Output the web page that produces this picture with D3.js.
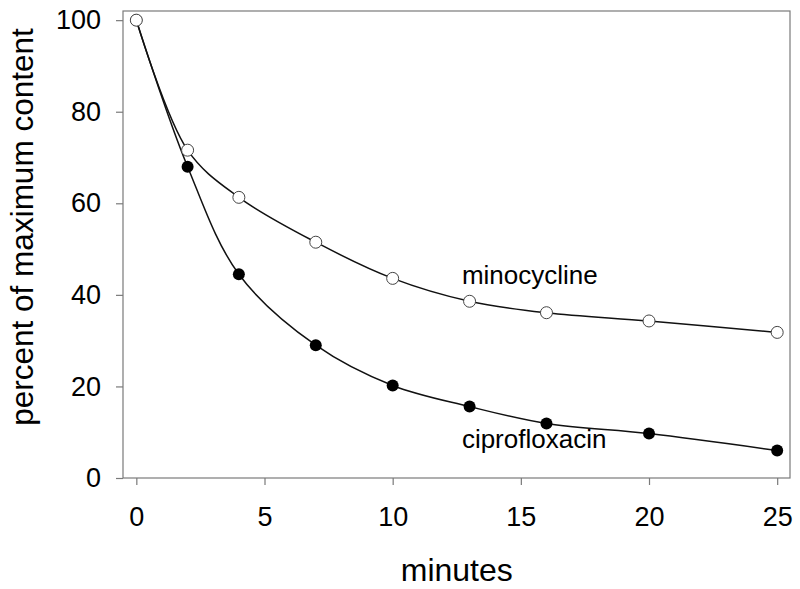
<!DOCTYPE html>
<html>
<head>
<meta charset="utf-8">
<script src="https://cdn.jsdelivr.net/npm/d3@7"></script>
<style>
  body { margin: 0; background: #fff; }
  svg { display: block; font-family: "Liberation Sans", Arial, sans-serif; }
</style>
</head>
<body>
<svg id="chart" width="800" height="589"></svg>
<script>
// data
const minutes = [0, 2, 4, 7, 10, 13, 16, 20, 25];
const minocycline = [100, 71.6, 61.3, 51.5, 43.6, 38.6, 36.1, 34.3, 31.8];
const ciprofloxacin = [100, 68.0, 44.5, 29.0, 20.2, 15.6, 11.9, 9.7, 6.0];
const xTicks = [0, 5, 10, 15, 20, 25];
const yTicks = [0, 20, 40, 60, 80, 100];

const svg = d3.select("#chart");
const margin = { top: 11, right: 10, bottom: 111, left: 123 };
const width = 800, height = 589;
const innerWidth = width - margin.left - margin.right;
const innerHeight = height - margin.top - margin.bottom;

const g = svg.append("g")
  .attr("transform", `translate(${margin.left},${margin.top})`);

const x = d3.scaleLinear().domain([-0.52, 25.5]).range([0, innerWidth]);
const y = d3.scaleLinear().domain([0, 102]).range([innerHeight, 0]);

const axisColor = "#7a7a7a";

// frame
g.append("rect")
  .attr("x", 0).attr("y", 0)
  .attr("width", innerWidth).attr("height", innerHeight)
  .attr("fill", "none")
  .attr("stroke", axisColor)
  .attr("stroke-width", 1.2);

// x axis
const xAxis = g.append("g")
  .attr("transform", `translate(0,${innerHeight})`)
  .call(d3.axisBottom(x).tickValues(xTicks).tickSize(7).tickPadding(22).tickFormat(d3.format("d")));
xAxis.select(".domain").remove();

// y axis
const yAxis = g.append("g")
  .call(d3.axisLeft(y).tickValues(yTicks).tickSize(7).tickPadding(15).tickFormat(d3.format("d")));
yAxis.select(".domain").remove();

g.selectAll(".tick line").attr("stroke", axisColor).attr("stroke-width", 1.2);
g.selectAll(".tick text")
  .attr("fill", "#000")
  .style("font-size", "27px")
  .style("font-family", "'Liberation Sans', Arial, sans-serif");

// axis titles
svg.append("text")
  .attr("x", margin.left + x(12.5))
  .attr("y", 581)
  .attr("text-anchor", "middle")
  .style("font-size", "32px")
  .text("minutes");

svg.append("text")
  .attr("transform", `translate(33,${227}) rotate(-90)`)
  .attr("text-anchor", "middle")
  .style("font-size", "31.5px")
  .text("percent of maximum content");

// curves
const line = d3.line()
  .x((d, i) => x(minutes[i]))
  .y(d => y(d))
  .curve(d3.curveCatmullRom.alpha(0.5));

[ciprofloxacin, minocycline].forEach(vals => {
  g.append("path")
    .datum(vals)
    .attr("fill", "none")
    .attr("stroke", "#111")
    .attr("stroke-width", 1.5)
    .attr("d", line);
});

// points
g.selectAll(".cipro")
  .data(ciprofloxacin)
  .join("circle")
  .attr("class", "cipro")
  .attr("cx", (d, i) => x(minutes[i]))
  .attr("cy", d => y(d))
  .attr("r", 6)
  .attr("fill", "#000");

g.selectAll(".mino")
  .data(minocycline)
  .join("circle")
  .attr("class", "mino")
  .attr("cx", (d, i) => x(minutes[i]))
  .attr("cy", d => y(d))
  .attr("r", 6)
  .attr("fill", "#fff")
  .attr("stroke", "#444")
  .attr("stroke-width", 1);

// series labels
g.append("text")
  .attr("x", x(12.7))
  .attr("y", y(42.3))
  .style("font-size", "26px")
  .text("minocycline");

g.append("text")
  .attr("x", x(12.7))
  .attr("y", y(6.5))
  .style("font-size", "26px")
  .text("ciprofloxacin");
</script>
</body>
</html>
